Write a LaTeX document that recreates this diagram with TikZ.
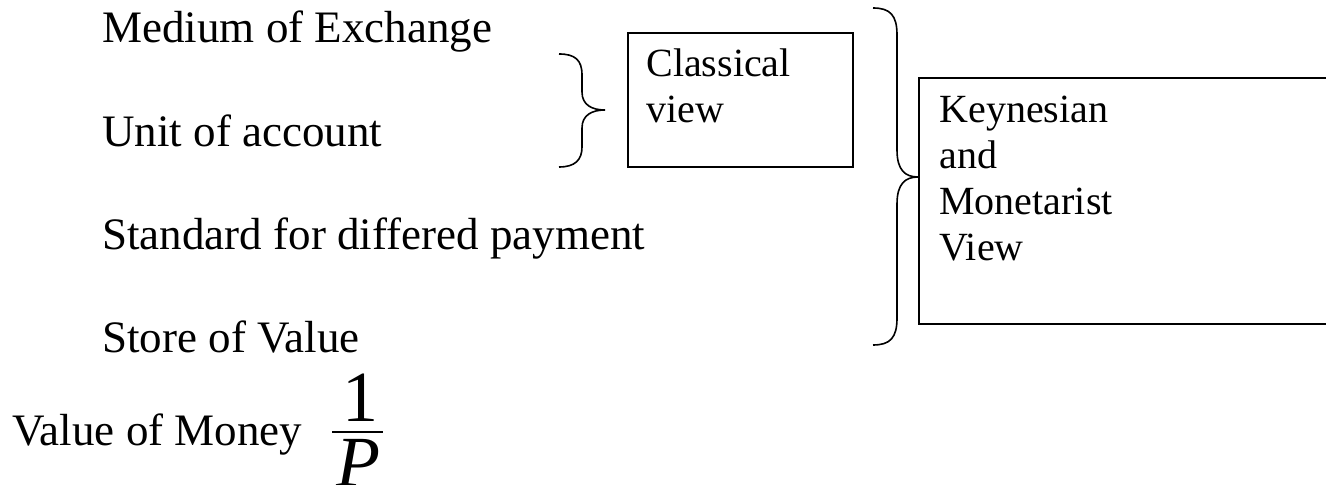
\documentclass[tikz,border=0pt]{standalone}
\usepackage{fontspec}
\setmainfont{Liberation Serif}
\begin{document}
\begin{tikzpicture}[x=0.5pt,y=-0.5pt,
  big/.style={font=\fontsize{22.5}{27}\selectfont, inner sep=0, anchor=base west},
  small/.style={font=\fontsize{20}{23}\selectfont, inner sep=0, anchor=base west},
  frac/.style={font=\fontsize{36}{40}\selectfont, inner sep=0, anchor=base},
  box/.style={draw, line width=1pt, inner sep=0, anchor=north west},
  brace/.style={line width=0.8pt}]
\useasboundingbox (0,0) rectangle (1326,485);
\clip (0,0) rectangle (1326,485);
% list of functions
\node[big] (moe) at (102,43) {Medium of Exchange};
\node[big] (uoa) at (102,147) {Unit of account};
\node[big] (sdp) at (102,250) {Standard for differed payment};
\node[big] (sov) at (102,353) {Store of Value};
\node[big] (vom) at (12,445) {Value of Money};
% fraction 1/P
\node[frac] (one) at (360,422) {1};
\coordinate (barL) at (332,432);
\coordinate (barR) at (383,432);
\draw[line width=1pt] (barL) -- (barR);
\node[frac] (pp) at (358,487) {\itshape P};
% classical box
\node[box, minimum width=112.5pt, minimum height=67pt] (clbox) at (627,32) {};
\node[small] (cltext) at (646,77) {\begin{tabular}[t]{@{}l@{}}Classical\\view\end{tabular}};
% keynesian box
\node[box, minimum width=211pt, minimum height=123pt] (kbox) at (918,77) {};
\node[small] (ktext) at (939,123) {\begin{tabular}[t]{@{}l@{}}Keynesian\\and\\Monetarist\\View\end{tabular}};
% small brace
\draw[brace] (559,54) .. controls (575,54) and (582,60) .. (582,75) -- (582,92)
  .. controls (582,105) and (592,110) .. (605,110)
  .. controls (592,110) and (582,115) .. (582,128) -- (582,147)
  .. controls (582,160) and (575,167) .. (559,167);
% big brace
\draw[brace] (873,8) .. controls (890,8) and (897,15) .. (897,35) -- (897,150)
  .. controls (897,170) and (905,177) .. (kbox.west |- 0,177)
  .. controls (905,177) and (897,184) .. (897,204) -- (897,318)
  .. controls (897,338) and (890,345) .. (873,345);
\end{tikzpicture}
\end{document}
